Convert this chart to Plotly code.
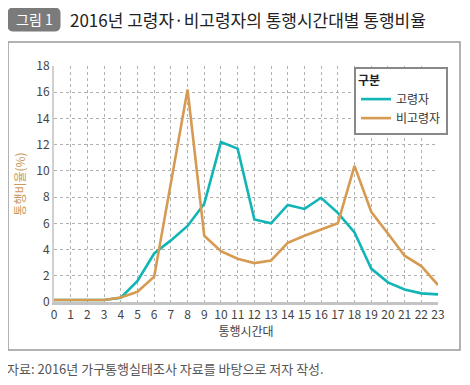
import plotly.graph_objects as go

hours = list(range(24))
elderly = [0.15, 0.15, 0.15, 0.15, 0.33, 1.6, 3.7, 4.7, 5.8, 7.5, 12.2, 11.7,
           6.3, 6.0, 7.4, 7.1, 7.95, 6.8, 5.3, 2.55, 1.5, 0.96, 0.66, 0.58]
non_elderly = [0.15, 0.15, 0.15, 0.15, 0.35, 0.78, 1.93, 9.0, 16.2, 5.05, 3.88, 3.3,
               2.97, 3.17, 4.52, 5.05, 5.53, 6.0, 10.38, 6.88, 5.23, 3.53, 2.74, 1.29]
series_names = ["고령자", "비고령자"]
y_ticks = list(range(0, 19, 2))

TEAL = "#12b5b5"
ORANGE = "#d69a52"
FONT = "Noto Sans CJK KR"

OX, OY = 8, 8          # page body margin
W, H = 470 - OX, 385 - OY
# plot area in page pixel coordinates
L, R, T, B = 54, 438, 66, 302


def px(x):
    return (x - L) / (R - L)


def py(y):
    return (B - y) / (B - T)


fig = go.Figure()
fig.add_trace(go.Scatter(x=hours, y=elderly, mode="lines", name=series_names[0],
                         line=dict(color=TEAL, width=2.6)))
fig.add_trace(go.Scatter(x=hours, y=non_elderly, mode="lines", name=series_names[1],
                         line=dict(color=ORANGE, width=2.6)))

fig.update_layout(
    width=W, height=H,
    margin=dict(l=L - OX, r=W - (R - OX), t=T - OY, b=H - (B - OY), autoexpand=False),
    paper_bgcolor="white", plot_bgcolor="white",
    font=dict(family=FONT, color="#444", size=12),
    showlegend=True,
    legend=dict(
        title=dict(text="<b>구분</b>", font=dict(size=12, color="#222")),
        x=px(354), y=py(67), xanchor="left", yanchor="top",
        bordercolor="#888", borderwidth=2, bgcolor="white",
        font=dict(size=12, color="#333"),
        itemwidth=30, tracegroupgap=0,
    ),
    xaxis=dict(
        range=[0, 23], tickmode="array", tickvals=hours,
        ticktext=[str(h) for h in hours],
        showgrid=True, gridcolor="#b0b0b0", griddash="dot", gridwidth=1,
        showline=True, linecolor="#c4c4c4", linewidth=3,
        ticks="", tickfont=dict(size=12, color="#444"),
        title=dict(text="통행시간대", font=dict(size=12, color="#444"), standoff=6),
        zeroline=False, automargin=False,
    ),
    yaxis=dict(
        range=[0, 18], tickmode="array", tickvals=y_ticks,
        showgrid=True, gridcolor="#b0b0b0", griddash="dot", gridwidth=1,
        showline=True, linecolor="#d0d0d0", linewidth=2,
        ticks="", tickfont=dict(size=12, color="#444"),
        title=dict(text="통행비율(%)", font=dict(size=12, color="#c8995a"), standoff=8),
        zeroline=False, automargin=False,
    ),
)

# outer frame
fig.add_shape(type="rect", xref="paper", yref="paper",
              x0=px(8), x1=px(460), y0=py(350), y1=py(42),
              line=dict(color="#999", width=1.5), fillcolor="rgba(0,0,0,0)", layer="below")

# label box "그림 1" (rounded)
x0, x1, y0, y1, r = 8, 60, 8, 31, 5
path = (f"M {px(x0 + r)},{py(y0)} L {px(x1 - r)},{py(y0)} "
        f"Q {px(x1)},{py(y0)} {px(x1)},{py(y0 + r)} L {px(x1)},{py(y1 - r)} "
        f"Q {px(x1)},{py(y1)} {px(x1 - r)},{py(y1)} L {px(x0 + r)},{py(y1)} "
        f"Q {px(x0)},{py(y1)} {px(x0)},{py(y1 - r)} L {px(x0)},{py(y0 + r)} "
        f"Q {px(x0)},{py(y0)} {px(x0 + r)},{py(y0)} Z")
fig.add_shape(type="path", xref="paper", yref="paper", path=path,
              fillcolor="#7b7b7b", line=dict(color="#7b7b7b", width=1))
fig.add_annotation(xref="paper", yref="paper", x=px(34), y=py(19.5),
                   text="그림 1", showarrow=False, xanchor="center", yanchor="middle",
                   font=dict(family=FONT, size=14, color="white"))
fig.add_annotation(xref="paper", yref="paper", x=px(68), y=py(19.5),
                   text="2016년 고령자·비고령자의 통행시간대별 통행비율", showarrow=False,
                   xanchor="left", yanchor="middle",
                   font=dict(family=FONT, size=17, color="#222"))
fig.add_annotation(xref="paper", yref="paper", x=px(5), y=py(368),
                   text="자료: 2016년 가구통행실태조사 자료를 바탕으로 저자 작성.", showarrow=False,
                   xanchor="left", yanchor="middle",
                   font=dict(family=FONT, size=13, color="#555"))

fig.write_html("out.html")
